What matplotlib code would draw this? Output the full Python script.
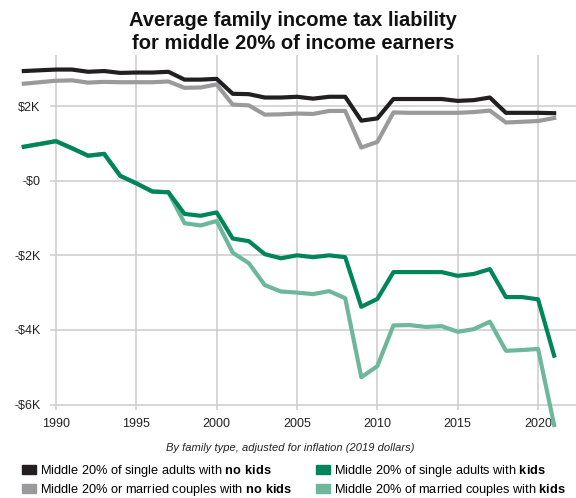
import matplotlib
matplotlib.use("Agg")
import matplotlib.pyplot as plt
from matplotlib.patches import Patch

plt.rcParams['font.family'] = ['Liberation Sans', 'DejaVu Sans']
plt.rcParams['mathtext.fontset'] = 'custom'
plt.rcParams['mathtext.rm'] = 'Liberation Sans'
plt.rcParams['mathtext.bf'] = 'Liberation Sans:bold'

# values in $K (1989 not plotted in the original)
years = [1988, 1990, 1991, 1992, 1993, 1994, 1995, 1996, 1997, 1998, 1999,
         2000, 2001, 2002, 2003, 2004, 2005, 2006, 2007, 2008, 2009, 2010,
         2011, 2012, 2013, 2014, 2015, 2016, 2017, 2018, 2019, 2020, 2021]

single_no_kids = [2.94, 2.98, 2.98, 2.92, 2.94, 2.89, 2.90, 2.90, 2.92, 2.71, 2.71,
                  2.73, 2.33, 2.32, 2.23, 2.23, 2.25, 2.20, 2.25, 2.25, 1.61, 1.67,
                  2.19, 2.19, 2.19, 2.19, 2.14, 2.16, 2.23, 1.82, 1.82, 1.82, 1.81]

married_no_kids = [2.60, 2.68, 2.69, 2.63, 2.65, 2.64, 2.64, 2.64, 2.66, 2.49, 2.50,
                   2.58, 2.04, 2.02, 1.77, 1.78, 1.80, 1.79, 1.87, 1.87, 0.89, 1.04,
                   1.83, 1.82, 1.82, 1.82, 1.82, 1.84, 1.88, 1.56, 1.58, 1.60, 1.68]

single_kids = [0.91, 1.06, 0.87, 0.67, 0.72, 0.13, -0.07, -0.29, -0.31, -0.89, -0.94,
               -0.85, -1.55, -1.62, -1.97, -2.08, -2.00, -2.05, -2.00, -2.05, -3.38, -3.17,
               -2.45, -2.45, -2.45, -2.45, -2.55, -2.50, -2.37, -3.12, -3.12, -3.18, -4.69]

married_kids = [0.91, 1.06, 0.87, 0.67, 0.72, 0.13, -0.07, -0.29, -0.31, -1.14, -1.20,
                -1.08, -1.93, -2.21, -2.80, -2.97, -3.00, -3.04, -2.96, -3.15, -5.27, -4.97,
                -3.88, -3.87, -3.92, -3.90, -4.05, -3.98, -3.78, -4.56, -4.54, -4.51, -6.55]

yticks = [2, 0, -2, -4, -6]
ylabels = ['$2K', '-$0', '-$2K', '-$4K', '-$6K']
xticks = [1990, 1995, 2000, 2005, 2010, 2015, 2020]

c_black = '#231f20'
c_gray = '#9a9a9c'
c_dkgreen = '#00845a'
c_ltgreen = '#6db79b'

fig = plt.figure(figsize=(5.76, 4.98), dpi=100)
ax = fig.add_axes([50 / 576, 1 - 410 / 498, 526 / 576, 355 / 498])

ax.plot(years, single_no_kids, color=c_black, lw=3, clip_on=False, zorder=4)
ax.plot(years, married_no_kids, color=c_gray, lw=3, clip_on=False, zorder=3)
ax.plot(years, married_kids, color=c_ltgreen, lw=3, clip_on=False, zorder=3)
ax.plot(years, single_kids, color=c_dkgreen, lw=3, clip_on=False, zorder=4)

ax.set_xlim(1989.63, 2022.36)
ax.set_ylim(-6.147, 3.37)
ax.set_xticks(xticks)
ax.set_yticks(yticks)
ax.set_yticklabels(ylabels)
ax.tick_params(length=0, labelsize=9, colors='#222222')
ax.tick_params(axis='y', pad=7)
ax.tick_params(axis='x', pad=6)
ax.grid(True, color='#cccccc', lw=1.1)
ax.set_axisbelow(True)
for s in ax.spines.values():
    s.set_visible(False)

fig.text(293 / 576, 1 - 32 / 498,
         "Average family income tax liability\nfor middle 20% of income earners",
         ha='center', va='center', fontsize=14.5, fontweight='bold',
         color='#111111', linespacing=1.3)

fig.text(290 / 576, 1 - 448 / 498,
         "By family type, adjusted for inflation (2019 dollars)",
         ha='center', va='center', fontsize=8, style='italic', color='#222222')

handles = [Patch(color=c_black), Patch(color=c_gray),
           Patch(color=c_dkgreen), Patch(color=c_ltgreen)]
labels = [r"Middle 20% of single adults with $\bf{no\ kids}$",
          r"Middle 20% or married couples with $\bf{no\ kids}$",
          r"Middle 20% of single adults with $\bf{kids}$",
          r"Middle 20% of married couples with $\bf{kids}$"]
fig.legend(handles, labels, ncol=2, frameon=False, fontsize=9.2,
           loc='upper left', bbox_to_anchor=(22 / 576, 1 - 463 / 498),
           handlelength=1.1, handleheight=0.7, handletextpad=0.3,
           columnspacing=1.9, labelspacing=0.2, borderaxespad=0,
           borderpad=0)

fig.savefig("out.png", dpi=100)
